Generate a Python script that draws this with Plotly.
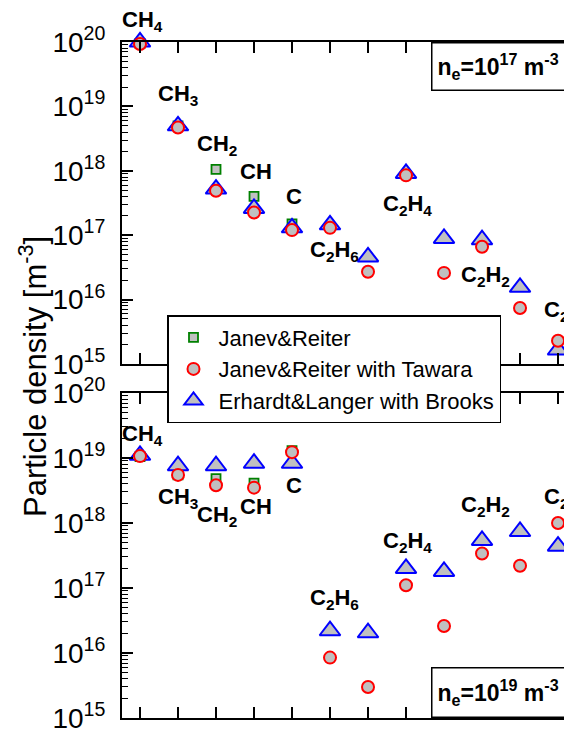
import plotly.graph_objects as go

# ---------------- data ----------------
species = ["CH4", "CH3", "CH2", "CH", "C", "C2H6", "C2H5", "C2H4", "C2H3", "C2H2", "C2H", "C2"]

# n_e = 1e17 m^-3 (top panel)
janev_17 = [9.5e19, 5.0e18, 1.05e18, 4.0e17, 1.5e17, None, None, None, None, None, None, None]
tawara_17 = [9.3e19, 4.7e18, 4.9e17, 2.25e17, 1.2e17, 1.3e17, 2.7e16, 8.5e17, 2.6e16, 6.6e16, 7.4e15, 2.3e15]
brooks_17 = [1.0e20, 5.0e18, 5.2e17, 2.6e17, 1.3e17, 1.45e17, 4.6e16, 9.1e17, 8.9e16, 8.5e16, 1.55e16, 1.65e15]

# n_e = 1e19 m^-3 (bottom panel)
janev_19 = [1.05e19, 5.5e18, 4.8e18, 4.1e18, 1.3e19, None, None, None, None, None, None, None]
tawara_19 = [1.07e19, 5.5e18, 3.8e18, 3.5e18, 1.23e19, 8.5e15, 3.0e15, 1.1e17, 2.6e16, 3.4e17, 2.2e17, 1.0e18]
brooks_19 = [1.1e19, 7.6e18, 7.6e18, 8.3e18, 8.3e18, 2.2e16, 2.05e16, 2.0e17, 1.8e17, 5.4e17, 7.4e17, 4.4e17]

series_names = ["Janev&Reiter", "Janev&Reiter with Tawara", "Erhardt&Langer with Brooks"]

label_species = ["CH4", "CH3", "CH2", "CH", "C", "C2H6", "C2H4", "C2H2", "C2"]
label_text = ["CH<sub>4</sub>", "CH<sub>3</sub>", "CH<sub>2</sub>", "CH", "C",
              "C<sub>2</sub>H<sub>6</sub>", "C<sub>2</sub>H<sub>4</sub>",
              "C<sub>2</sub>H<sub>2</sub>", "C<sub>2</sub>"]
# label vertical positions (log10 of density) in each panel
label_logy_17 = [20.37, 19.22, 18.45, 17.99, 17.60, 16.80, 17.52, 16.41, 15.87]
label_logy_19 = [19.40, 18.43, 18.15, 18.25, 18.58, 16.87, 17.75, 18.30, 18.43]
label_xshift = [2, 0, 1, 2, 2, 4, 1, 3, -2]

decades = [15, 16, 17, 18, 19, 20]
tick_vals = [10.0 ** d for d in decades]
tick_text = ["10<sup>%d</sup>" % d for d in decades]
minor_vals = [k * 10.0 ** d for d in decades[:-1] for k in range(2, 10)]

# ---------------- styling ----------------
FONT = "Liberation Sans, Arial, sans-serif"
GRAY = "#c0c0c0"
styles = [
    dict(symbol="square", size=9, color=GRAY, line=dict(color="#008000", width=1.8)),
    dict(symbol="circle", size=12, color=GRAY, line=dict(color="#ff0000", width=2)),
    dict(symbol="triangle-up", size=18, color=GRAY, line=dict(color="#0000ff", width=2)),
]
draw_order = [0, 2, 1]  # square, triangle, circle on top
ranks = [1, 2, 3]

fig = go.Figure()
panels = [
    ("x", "y", [janev_17, tawara_17, brooks_17], True),
    ("x2", "y2", [janev_19, tawara_19, brooks_19], False),
]
for xa, ya, data, show in panels:
    for i in draw_order:
        fig.add_trace(go.Scatter(
            x=species, y=data[i], mode="markers", name=series_names[i],
            marker=styles[i], xaxis=xa, yaxis=ya, showlegend=show,
            legendrank=ranks[i], cliponaxis=False,
        ))

# ---------------- layout ----------------
# the page body has an 8px margin, so the figure is offset by OFF px
OFF = 8
PAGE_W, PAGE_H = 572, 733
W, H = PAGE_W - OFF, PAGE_H - OFF
ml = 122 - OFF
mt = 42 - OFF
mb = H - (718 - OFF)
mr = 0
ph = H - mt - mb
pw = W - ml - mr


def py(page_y):
    """page pixel y -> paper fraction"""
    return (H - mb - (page_y - OFF)) / ph


def px(page_x):
    return (page_x - OFF - ml) / pw


top_dom = [py(364), 1.0]
bot_dom = [0.0, py(393)]
xr = [-0.474, 11.368]

xcommon = dict(type="category", categoryorder="array", categoryarray=species,
               range=xr, showticklabels=False, ticks="inside", ticklen=11,
               tickwidth=1.5, tickcolor="black", showline=True, linewidth=2,
               linecolor="black", mirror="ticks", showgrid=False, zeroline=False)
ycommon = dict(type="log", range=[15, 20], tickvals=tick_vals, ticktext=tick_text,
               ticks="inside", ticklen=11, tickwidth=1.5, tickcolor="black",
               showline=True, linewidth=2, linecolor="black", mirror=False,
               showgrid=False, zeroline=False, ticklabelstandoff=9,
               ticklabeloverflow="allow",
               tickfont=dict(family=FONT, size=28, color="black"),
               minor=dict(ticks="inside", ticklen=6, tickwidth=1.2, tickcolor="black",
                          tickvals=minor_vals, showgrid=False))
yright = dict(type="log", range=[15, 20], tickvals=tick_vals, showticklabels=False,
              ticks="inside", ticklen=8, tickwidth=1.5, tickcolor="black",
              showline=False, showgrid=False, zeroline=False, side="right")

fig.update_layout(
    width=W, height=H,
    margin=dict(l=ml, r=mr, t=mt, b=mb, pad=0),
    paper_bgcolor="white", plot_bgcolor="white",
    font=dict(family=FONT, color="black"),
    xaxis=dict(xcommon, domain=[0, 1], anchor="y"),
    yaxis=dict(ycommon, domain=top_dom, anchor="x"),
    xaxis2=dict(xcommon, domain=[0, 1], anchor="y2"),
    yaxis2=dict(ycommon, domain=bot_dom, anchor="x2"),
    yaxis3=dict(yright, overlaying="y", anchor="x"),
    yaxis4=dict(yright, overlaying="y2", anchor="x2"),
    legend=dict(x=px(167), y=py(315), xanchor="left", yanchor="top",
                bgcolor="white", bordercolor="black", borderwidth=1.5,
                font=dict(family=FONT, size=22, color="black"), tracegroupgap=0,
                itemwidth=40),
    showlegend=True,
)

ann = []
for ya, xa, logys in (("y", "x", label_logy_17), ("y2", "x2", label_logy_19)):
    for sp, txt, ly, xs in zip(label_species, label_text, logys, label_xshift):
        ann.append(dict(x=sp, y=(ly - 15) / 5, xref=xa, yref=ya + " domain",
                        text="<b>%s</b>" % txt,
                        showarrow=False, xanchor="center", yanchor="middle",
                        xshift=xs, yshift=-3 if "<sub>" in txt else 0,
                        borderpad=0,
                        font=dict(family=FONT, size=22, color="black")))

# n_e boxes
ne_font = dict(family=FONT, size=23, color="black")
ann.append(dict(x=(431 - 122) / (572 - 122), y=1, xref="x domain", yref="y domain",
                xanchor="left", yanchor="top", showarrow=False, align="left",
                text="<b>n<sub>e</sub>=10<sup>17</sup> m<sup>-3</sup></b>",
                font=ne_font, bordercolor="black", borderwidth=1.5, borderpad=5,
                bgcolor="white", width=165, height=36))
ann.append(dict(x=(431 - 122) / (572 - 122), y=0, xref="x2 domain", yref="y2 domain",
                xanchor="left", yanchor="bottom", showarrow=False, align="left",
                text="<b>n<sub>e</sub>=10<sup>19</sup> m<sup>-3</sup></b>",
                font=ne_font, bordercolor="black", borderwidth=1.5, borderpad=5,
                bgcolor="white", width=165, height=38))

# y title shared by both panels
ann.append(dict(x=px(33), y=py(377), xref="paper", yref="paper",
                text="Particle density [m<sup>-3</sup>]", textangle=-90, showarrow=False,
                xanchor="center", yanchor="middle",
                font=dict(family=FONT, size=31, color="black")))

fig.update_layout(annotations=ann)
fig.write_html("out.html")
